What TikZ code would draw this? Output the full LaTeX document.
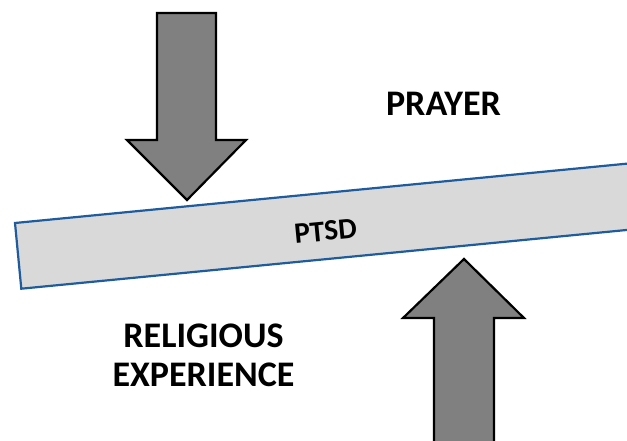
\documentclass[tikz,border=0pt]{standalone}
\usepackage{fontspec}
\setmainfont{Carlito}
\definecolor{barblue}{HTML}{1F5C9E}
\definecolor{barfill}{HTML}{D9D9D9}
\definecolor{arrowfill}{HTML}{808080}
\tikzset{
  bigarrow/.style={fill=arrowfill, draw=black, line width=2.2pt, line join=miter},
  barstyle/.style={fill=barfill, draw=barblue, line width=2.2pt},
  bigtext/.style={font=\fontsize{36}{39}\selectfont\bfseries, align=center, inner sep=0pt},
  bartext/.style={font=\fontsize{29.5}{33}\selectfont\bfseries, inner sep=0pt}
}
\begin{document}
\begin{tikzpicture}[x=1pt,y=-1pt]
\useasboundingbox (0,0) rectangle (627,441);
\clip (0,0) rectangle (627,441);
% tilted bar
\draw[barstyle] (15,223) -- (680,158.5) -- (686.3,224.2) -- (21.3,288.7) -- cycle;
% down arrow
\draw[bigarrow] (157,13) -- (216,13) -- (216,140) -- (246,140) -- (187,200) -- (127,140) -- (157,140) -- cycle;
% up arrow
\draw[bigarrow] (434,460) -- (434,318) -- (403,318) -- (464,259) -- (524,318) -- (494,318) -- (494,460) -- cycle;
% labels
\node[bartext, rotate=5.5] (ptsd) at (325.5,231) {PTSD};
\node[bigtext] (prayer) at (443.5,104) {PRAYER};
\node[bigtext] (relig) at (203.5,355) {RELIGIOUS\\EXPERIENCE};
\end{tikzpicture}
\end{document}
